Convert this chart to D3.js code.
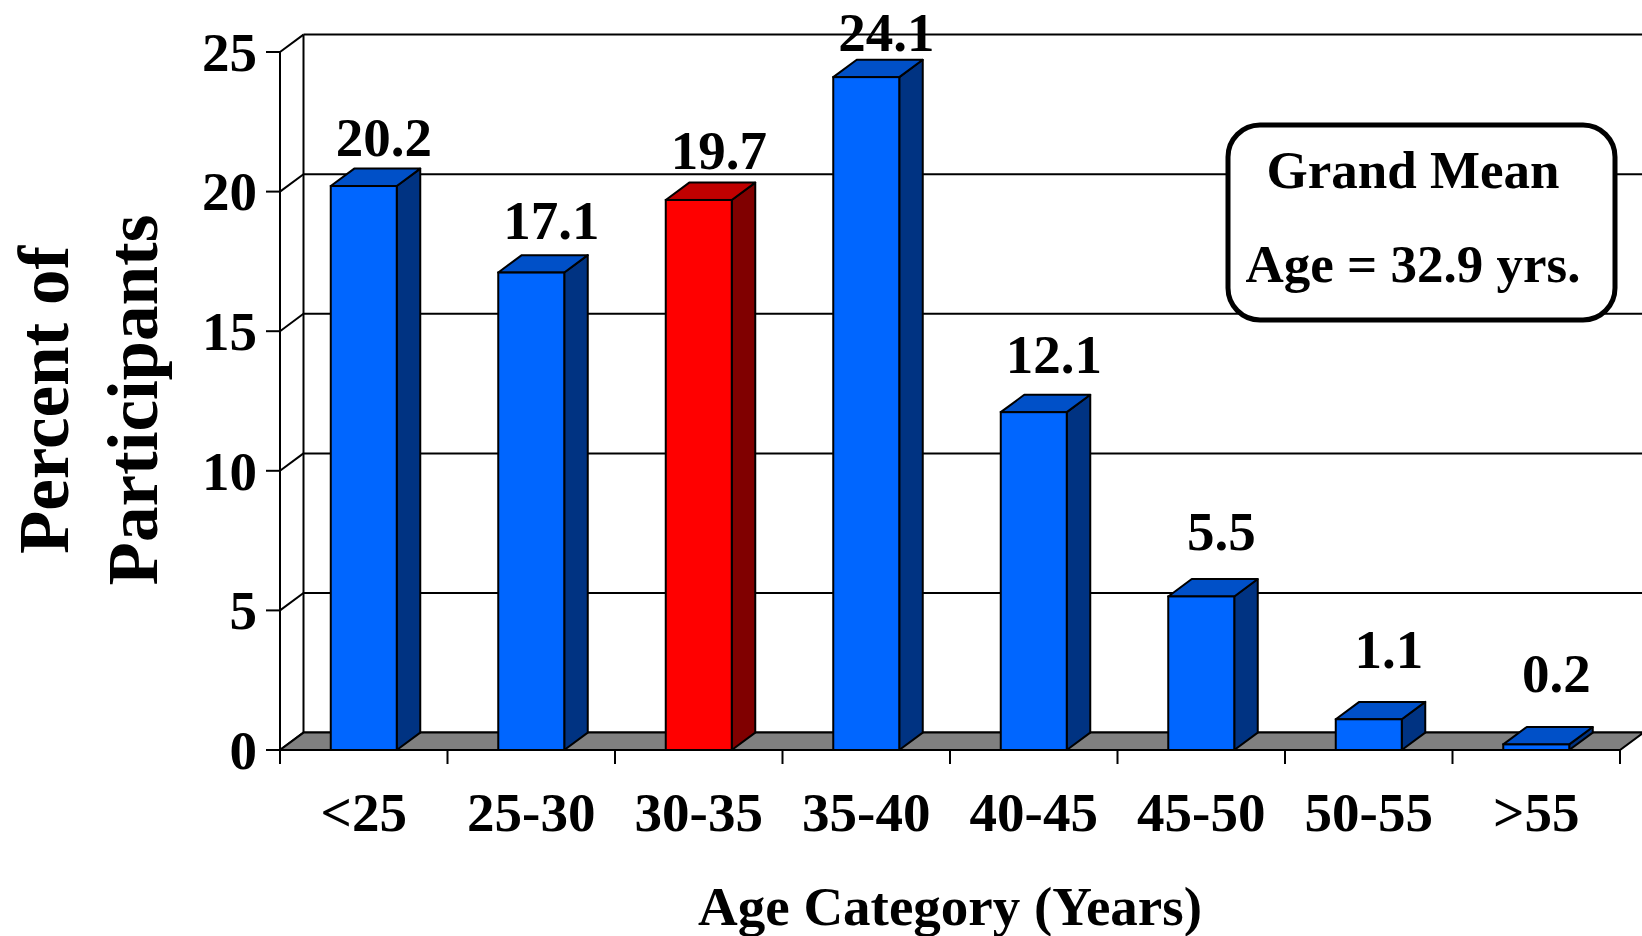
<!DOCTYPE html>
<html>
<head>
<meta charset="utf-8">
<script src="https://cdn.jsdelivr.net/npm/d3@7"></script>
<style>
  html, body { margin: 0; padding: 0; background: #fff; }
  svg { display: block; }
  text { font-family: "Liberation Serif", "Times New Roman", serif; font-weight: bold; fill: #000; }
</style>
</head>
<body>
<svg id="chart" width="1642" height="936"></svg>
<script>
// ---- data ----
const categories = ["<25", "25-30", "30-35", "35-40", "40-45", "45-50", "50-55", ">55"];
const percents   = [20.2, 17.1, 19.7, 24.1, 12.1, 5.5, 1.1, 0.2];
const highlighted = ["30-35"];
const yTicks = [0, 5, 10, 15, 20, 25];
const yTitleLines = ["Percent of", "Participants"];
const xTitle = "Age Category (Years)";
const noteLines = ["Grand Mean", "Age = 32.9 yrs."];

// ---- layout ----
const svg = d3.select("#chart");
const left = 280, right = 1620, bottom = 750;
const dx = 23.5, dy = 17.4;           // 3D depth offset
const barW = 66;

const x = d3.scaleBand().domain(categories).range([left, right]).paddingInner(0).paddingOuter(0);
const y = d3.scaleLinear().domain([0, 25]).range([bottom, 52]);
const yLabel = d3.scaleLinear().domain([0, 25]).range([697.5, 27]);

const colors = {
  normal: { front: "#0066ff", top: "#0050c8", side: "#003382" },
  hi:     { front: "#ff0000", top: "#c00000", side: "#800000" }
};

const g = svg.append("g");

// back wall gridlines
g.selectAll("line.grid").data(yTicks).join("line")
  .attr("x1", left + dx).attr("x2", 1642)
  .attr("y1", d => y(d) - dy).attr("y2", d => y(d) - dy)
  .attr("stroke", "#000").attr("stroke-width", 2);

// side wall diagonals
g.selectAll("line.diag").data(yTicks).join("line")
  .attr("x1", left).attr("x2", left + dx)
  .attr("y1", d => y(d)).attr("y2", d => y(d) - dy)
  .attr("stroke", "#000").attr("stroke-width", 2);

// back wall left edge
g.append("line")
  .attr("x1", left + dx).attr("x2", left + dx)
  .attr("y1", y(25) - dy).attr("y2", y(0) - dy)
  .attr("stroke", "#000").attr("stroke-width", 2);

// floor
const floorPts = [[left, bottom], [right, bottom], [right + dx, bottom - dy], [left + dx, bottom - dy]];
g.append("path")
  .attr("d", d3.line()(floorPts) + "Z")
  .attr("fill", "#808080").attr("stroke", "#000").attr("stroke-width", 2).attr("stroke-linejoin", "miter");

// front y axis
g.append("line")
  .attr("x1", left).attr("x2", left).attr("y1", y(25)).attr("y2", y(0))
  .attr("stroke", "#000").attr("stroke-width", 2);
g.selectAll("line.ytick").data(yTicks).join("line")
  .attr("x1", left - 14).attr("x2", left)
  .attr("y1", d => y(d)).attr("y2", d => y(d))
  .attr("stroke", "#000").attr("stroke-width", 2);
g.selectAll("text.ytl").data(yTicks).join("text")
  .attr("x", 257).attr("y", d => y(d)).attr("dy", "0.34em")
  .attr("text-anchor", "end").attr("font-size", 55)
  .text(d => d);

// x axis ticks (category boundaries)
const bounds = categories.map(c => x(c)).concat([right]);
g.selectAll("line.xtick").data(bounds).join("line")
  .attr("x1", d => d).attr("x2", d => d)
  .attr("y1", bottom).attr("y2", bottom + 14)
  .attr("stroke", "#000").attr("stroke-width", 2);

// bars
const bars = g.selectAll("g.bar").data(categories.map((c, i) => ({ c, v: percents[i] }))).join("g");
bars.each(function(d) {
  const sel = d3.select(this);
  const col = highlighted.includes(d.c) ? colors.hi : colors.normal;
  const cx = x(d.c) + x.bandwidth() / 2;
  const x0 = cx - barW / 2, x1 = cx + barW / 2;
  const yt = y(d.v), yb = y(0);
  // side
  sel.append("path")
    .attr("d", d3.line()([[x1, yt], [x1 + dx, yt - dy], [x1 + dx, yb - dy], [x1, yb]]) + "Z")
    .attr("fill", col.side).attr("stroke", "#000").attr("stroke-width", 2).attr("stroke-linejoin", "round");
  // top
  sel.append("path")
    .attr("d", d3.line()([[x0, yt], [x1, yt], [x1 + dx, yt - dy], [x0 + dx, yt - dy]]) + "Z")
    .attr("fill", col.top).attr("stroke", "#000").attr("stroke-width", 2).attr("stroke-linejoin", "round");
  // front
  sel.append("rect")
    .attr("x", x0).attr("y", yt).attr("width", barW).attr("height", yb - yt)
    .attr("fill", col.front).attr("stroke", "#000").attr("stroke-width", 2);
  // value label
  sel.append("text")
    .attr("x", cx + 20).attr("y", yLabel(d.v))
    .attr("text-anchor", "middle").attr("font-size", 55)
    .text(d.v.toFixed(1));
});

// category labels
g.selectAll("text.cat").data(categories).join("text")
  .attr("x", d => x(d) + x.bandwidth() / 2).attr("y", 831)
  .attr("text-anchor", "middle").attr("font-size", 55)
  .text(d => d);

// x title
g.append("text")
  .attr("x", (left + right) / 2).attr("y", 925)
  .attr("text-anchor", "middle").attr("font-size", 55)
  .text(xTitle);

// y title
const yTitleX = [68, 157];
yTitleLines.forEach((t, i) => {
  g.append("text")
    .attr("transform", `translate(${yTitleX[i]},400) rotate(-90)`)
    .attr("text-anchor", "middle").attr("font-size", 71)
    .text(t);
});

// note box
const box = g.append("g");
box.append("rect")
  .attr("x", 1228).attr("y", 125).attr("width", 387).attr("height", 195).attr("rx", 32).attr("ry", 32)
  .attr("fill", "#fff").attr("stroke", "#000").attr("stroke-width", 5);
box.selectAll("text").data(noteLines).join("text")
  .attr("x", 1413).attr("y", (d, i) => i === 0 ? 188 : 282)
  .attr("text-anchor", "middle").attr("font-size", 53)
  .text(d => d);
</script>
</body>
</html>
